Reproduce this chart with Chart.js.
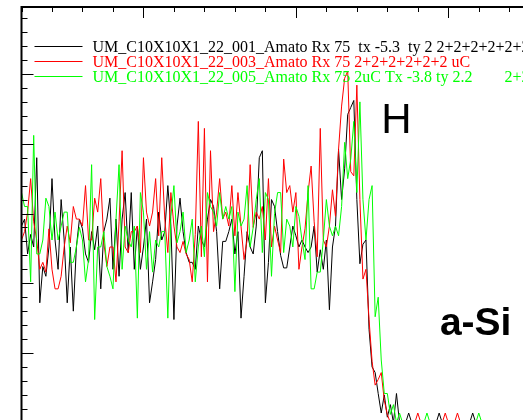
<!DOCTYPE html>
<html>
<head>
<meta charset="utf-8">
<script src="https://cdn.jsdelivr.net/npm/chart.js@4.4.1/dist/chart.umd.min.js"></script>
<style>
  html, body { margin: 0; padding: 0; background: #fff; overflow: hidden; }
  #wrap { position: relative; width: 523px; height: 420px; }
</style>
</head>
<body>
<div id="wrap"><canvas id="myChart"></canvas></div>
<script>
// depth axis (arbitrary units, one point every 0.2)
const depth = [
  2.0, 2.2, 2.4, 2.6, 2.8, 3.0, 3.2, 3.4, 3.6, 3.8,
  4.0, 4.2, 4.4, 4.6, 4.8, 5.0, 5.2, 5.4, 5.6, 5.8,
  6.0, 6.2, 6.4, 6.6, 6.8, 7.0, 7.2, 7.4, 7.6, 7.8,
  8.0, 8.2, 8.4, 8.6, 8.8, 9.0, 9.2, 9.4, 9.6, 9.8,
  10.0, 10.2, 10.4, 10.6, 10.8, 11.0, 11.2, 11.4, 11.6, 11.8,
  12.0, 12.2, 12.4, 12.6, 12.8, 13.0, 13.2, 13.4, 13.6, 13.8,
  14.0, 14.2, 14.4, 14.6, 14.8, 15.0, 15.2, 15.4, 15.6, 15.8,
  16.0, 16.2, 16.4, 16.6, 16.8, 17.0, 17.2, 17.4, 17.6, 17.8,
  18.0, 18.2, 18.4, 18.6, 18.8, 19.0, 19.2, 19.4, 19.6, 19.8,
  20.0, 20.2, 20.4, 20.6, 20.8, 21.0, 21.2, 21.4, 21.6, 21.8,
  22.0, 22.2, 22.4, 22.6, 22.8, 23.0, 23.2, 23.4, 23.6, 23.8,
  24.0, 24.2, 24.4, 24.6, 24.8, 25.0, 25.2, 25.4, 25.6, 25.8,
  26.0, 26.2, 26.4, 26.6, 26.8, 27.0, 27.2, 27.4, 27.6, 27.8,
  28.0, 28.2, 28.4, 28.6, 28.8, 29.0, 29.2, 29.4, 29.6, 29.8,
  30.0, 30.2, 30.4, 30.6, 30.8, 31.0, 31.2, 31.4, 31.6, 31.8,
  32.0, 32.2, 32.4, 32.6, 32.8, 33.0, 33.2, 33.4, 33.6, 33.8,
  34.0, 34.2, 34.4, 34.6, 34.8
];

const labels001 = 'UM_C10X10X1_22_001_Amato Rx 75  tx -5.3  ty 2 2+2+2+2+2+2 uC';
const labels003 = 'UM_C10X10X1_22_003_Amato Rx 75 2+2+2+2+2+2 uC';
const labels005 = 'UM_C10X10X1_22_005_Amato Rx 75 2uC Tx -3.8 ty 2.2        2+2+2+2+2+2 uC';

const run001 = [
  14.1, 14.6, 12.1, 13.5, 12.6, 19.0, 8.6, 11.2, 10.5, 12.6,
  17.5, 13.1, 11.0, 16.0, 13.1, 8.6, 12.6, 8.0, 12.6, 14.6,
  13.9, 12.1, 11.5, 13.7, 12.4, 14.1, 9.6, 13.7, 14.6, 16.1,
  11.0, 14.6, 10.5, 14.6, 16.5, 12.2, 16.5, 11.0, 14.1, 11.0,
  12.6, 14.6, 8.6, 10.1, 11.7, 15.1, 13.1, 13.7, 17.0, 14.1,
  7.4, 14.1, 16.1, 13.7, 12.2, 11.5, 11.5, 11.0, 14.1, 13.1,
  12.6, 14.6, 16.0, 15.5, 13.7, 9.6, 13.0, 13.0, 13.7, 14.6,
  12.1, 13.7, 7.5, 10.5, 13.7, 12.6, 12.1, 14.1, 19.0, 19.5,
  8.6, 11.5, 16.0, 15.5, 13.7, 12.0, 11.1, 11.1, 12.6, 14.1,
  13.4, 12.6, 13.1, 12.6, 12.2, 12.6, 14.1, 10.8, 12.4, 11.0,
  13.1, 8.1, 12.6, 14.1, 19.6, 16.0, 18.2, 22.1, 22.6, 23.1,
  16.0, 11.4, 12.8, 13.1, 6.7, 4.0, 3.6, 2.1, 0.7, 2.0,
  0.4, 1.3, 0, 2.1, 0, 0, 0, 0.7, 0, 0,
  0, 0, 0, 0, 0, 0, 0, 0.7, 0, 0,
  0, 0, 0, 0, 0, 0, 0, 0, 0.7, 0,
  0, 0, 0, 0, 0, 0, 0, 0, 0, 0,
  0, 0, 0, 0, 0
];

const run003 = [
  13.1, 13.7, 15.1, 17.5, 14.4, 13.1, 11.0, 11.5, 10.8, 13.9,
  11.0, 9.6, 9.6, 10.5, 12.6, 14.1, 12.9, 15.5, 14.6, 14.6,
  14.1, 17.0, 13.1, 13.1, 16.1, 15.1, 17.5, 12.9, 11.2, 12.6,
  12.6, 10.1, 14.4, 19.5, 12.6, 12.2, 13.7, 13.7, 14.1, 12.2,
  19.0, 15.1, 14.1, 15.1, 17.5, 13.4, 19.0, 14.6, 12.2, 16.5,
  14.1, 12.6, 12.2, 13.0, 12.1, 11.7, 10.1, 13.5, 21.6, 11.9,
  21.1, 10.1, 19.5, 13.7, 15.1, 17.5, 14.6, 15.1, 14.1, 17.0,
  13.4, 16.5, 14.1, 11.7, 13.1, 18.5, 14.0, 15.1, 14.6, 15.5,
  13.1, 17.5, 12.6, 14.1, 13.1, 12.2, 18.9, 16.5, 17.0, 15.1,
  16.5, 11.0, 12.6, 13.9, 16.5, 18.4, 14.4, 11.9, 21.1, 13.1,
  12.6, 14.1, 16.7, 14.8, 19.6, 22.7, 24.7, 25.2, 18.0, 17.7,
  24.2, 16.0, 10.3, 11.0, 7.4, 4.4, 2.7, 3.1, 3.6, 1.6,
  0.6, 0, 0, 0, 0, 0, 0, 0, 0, 0,
  0.7, 0, 0, 0, 0, 0, 0, 0, 0, 0.7,
  0, 0, 0, 0.7, 0, 0, 0, 0, 0, 0,
  0, 0, 0, 0, 0, 0, 0, 0, 0, 0,
  0, 0, 0, 0, 0
];

const run005 = [
  16.5, 15.5, 15.5, 10.1, 20.6, 12.1, 12.1, 13.1, 16.1, 15.5,
  13.1, 15.1, 13.1, 14.1, 15.1, 15.1, 11.5, 11.5, 12.6, 14.0,
  13.1, 10.1, 11.7, 18.5, 7.4, 12.6, 12.6, 13.7, 11.2, 10.5,
  9.6, 14.6, 18.5, 11.0, 14.1, 13.1, 12.6, 14.1, 7.5, 16.5,
  15.1, 11.0, 13.7, 10.8, 13.1, 12.6, 13.7, 13.7, 7.5, 14.8,
  17.0, 12.9, 13.7, 15.1, 12.2, 13.1, 14.6, 10.1, 12.6, 14.1,
  11.9, 16.5, 15.5, 15.1, 14.1, 16.5, 14.6, 15.5, 14.6, 15.5,
  9.4, 15.1, 14.1, 14.6, 17.0, 12.6, 14.0, 16.0, 17.5, 12.2,
  16.5, 16.0, 10.5, 15.0, 16.5, 16.5, 12.2, 14.6, 14.1, 12.6,
  15.5, 14.8, 13.1, 11.7, 17.0, 9.6, 9.6, 10.8, 10.8, 13.1,
  16.0, 14.1, 13.4, 14.1, 13.4, 15.5, 20.1, 17.5, 18.9, 21.6,
  16.5, 23.0, 16.0, 13.1, 16.0, 17.0, 7.6, 9.0, 4.5, 2.1,
  2.1, 0.6, 1.3, 0, 0.7, 0, 0, 0, 0, 0,
  0, 0, 0, 0.7, 0, 0, 0, 0, 0, 0,
  0, 0, 0, 0, 0, 0, 0, 0, 0, 0,
  0.7, 0, 0, 0, 0, 0, 0, 0, 0, 0,
  0, 0, 0, 0, 0
];

// axis ticks drawn inside the frame, like the original plot
const inwardTicks = {
  id: 'inwardTicks',
  afterDraw(chart) {
    const {ctx, chartArea: a, scales: {x, y}} = chart;
    ctx.save();
    ctx.strokeStyle = '#000';
    ctx.lineWidth = 1;
    for (let v = Math.ceil(y.min); v <= y.max; v++) {
      const py = Math.round(y.getPixelForValue(v)) + 0.5;
      const len = v % 5 === 0 ? 12 : 6;
      ctx.beginPath();
      ctx.moveTo(a.left, py);
      ctx.lineTo(a.left + len, py);
      ctx.stroke();
    }
    for (let v = 2; v <= x.max; v += 2) {
      const px = Math.round(x.getPixelForValue(v)) + 0.5;
      const len = v % 10 === 0 ? 11 : 5;
      ctx.beginPath();
      ctx.moveTo(px, a.top);
      ctx.lineTo(px, a.top + len);
      ctx.stroke();
    }
    ctx.lineWidth = 2;
    ctx.beginPath();
    ctx.moveTo(a.left, a.bottom + 2);
    ctx.lineTo(a.left, a.top);
    ctx.lineTo(a.right + 2, a.top);
    ctx.stroke();
    ctx.restore();
  }
};

// legend in the top left corner of the plot, serif text
const plotLegend = {
  id: 'plotLegend',
  afterDatasetsDraw(chart) {
    const {ctx, chartArea: a} = chart;
    ctx.save();
    ctx.font = '16px "Liberation Serif", "Times New Roman", serif';
    ctx.textBaseline = 'middle';
    chart.data.datasets.forEach((ds, i) => {
      const yy = a.top + 39.5 + i * 15;
      ctx.strokeStyle = ds.borderColor;
      ctx.lineWidth = 1;
      ctx.beginPath();
      ctx.moveTo(a.left + 13, yy);
      ctx.lineTo(a.left + 61, yy);
      ctx.stroke();
      ctx.fillStyle = ds.borderColor;
      ctx.fillText(ds.label, a.left + 71, yy + 1);
    });
    ctx.restore();
  }
};

// region labels, placed in data coordinates
const regionNotes = {
  id: 'regionNotes',
  afterDraw(chart) {
    const {ctx, scales: {x, y}} = chart;
    ctx.save();
    ctx.fillStyle = '#000';
    ctx.textBaseline = 'alphabetic';
    ctx.font = '42px "Liberation Sans", Arial, sans-serif';
    ctx.fillText('H', x.getPixelForValue(25.6), y.getPixelForValue(20.8));
    ctx.font = 'bold 39px "Liberation Sans", Arial, sans-serif';
    ctx.fillText('a-Si', x.getPixelForValue(29.45), y.getPixelForValue(6.3));
    ctx.restore();
  }
};

const ctx = document.getElementById('myChart').getContext('2d');
const myChart = new Chart(ctx, {
  type: 'line',
  data: {
    labels: depth,
    datasets: [
      { label: labels001, data: run001, borderColor: '#000000', order: 3 },
      { label: labels003, data: run003, borderColor: '#ff0000', order: 2 },
      { label: labels005, data: run005, borderColor: '#00ff00', order: 1 }
    ]
  },
  options: {
    responsive: true,
    maintainAspectRatio: false,
    animation: false,
    layout: { padding: { left: 21.5, top: 7, right: 0, bottom: 0 } },
    elements: {
      line: { borderWidth: 1, tension: 0 },
      point: { radius: 0 }
    },
    plugins: {
      legend: { display: false },
      tooltip: { enabled: false }
    },
    scales: {
      x: { type: 'linear', position: 'top', min: 2, max: 34.9, display: false },
      y: { type: 'linear', min: 0.2, max: 29.8, display: false }
    }
  },
  plugins: [inwardTicks, plotLegend, regionNotes]
});
</script>
</body>
</html>
